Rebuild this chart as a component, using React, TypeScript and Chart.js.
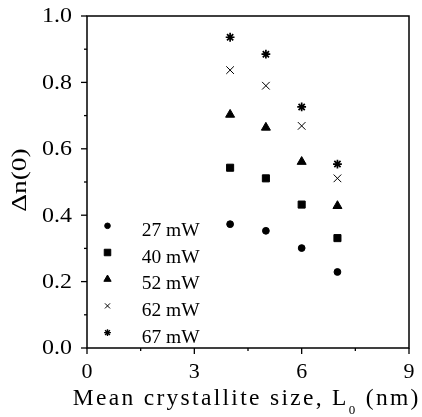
import React, { useEffect, useRef } from "react";
import { Chart, registerables } from "chart.js";
import { drawPoint } from "chart.js/helpers";

Chart.register(...registerables);

const xValues = [4, 5, 6, 7];
const series27 = [0.373, 0.353, 0.301, 0.229];
const series40 = [0.543, 0.511, 0.432, 0.331];
const series52 = [0.703, 0.664, 0.561, 0.428];
const series62 = [0.837, 0.79, 0.669, 0.511];
const series67 = [0.936, 0.885, 0.726, 0.554];
const seriesNames = ["27 mW", "40 mW", "52 mW", "62 mW", "67 mW"];
const pointStyles = ["circle", "rect", "triangle", "crossRot", "star"];
const pointRadii = [3.4, 5, 5.2, 5.4, 4.4];
const pointBorders = [1, 1, 1, 1, 1.7];
const legendRadii = [2.8, 4.6, 4.2, 3.6, 3.4];
const legendBorders = [1, 1, 1, 1, 1.4];
const xTicks = [0, 3, 6, 9];
const yTicks = [0, 0.2, 0.4, 0.6, 0.8, 1.0];
const xTitleMain = "Mean crystallite size, L";
const xTitleSub = "0";
const xTitleTail = " (nm)";
const yTitle = "\u0394n(0)";

const FONT = '"Liberation Serif", "Times New Roman", Times, serif';

function drawStretched(ctx: any, text: string, size: number, x: number, y: number, align: string, sx: number) {
  ctx.save();
  ctx.font = `${size}px ${FONT}`;
  ctx.textBaseline = "alphabetic";
  ctx.textAlign = "left";
  const w = ctx.measureText(text).width * sx;
  let left = x;
  if (align === "right") left = x - w;
  else if (align === "center") left = x - w / 2;
  ctx.translate(left, y);
  ctx.scale(sx, 1);
  ctx.fillText(text, 0, 0);
  ctx.restore();
}

const framePlugin = {
  id: "frame",
  afterDraw(chart: any) {
    const { ctx, chartArea } = chart;
    const { left, right, top, bottom } = chartArea;
    const xs = chart.scales.x;
    const ys = chart.scales.y;
    ctx.save();
    ctx.strokeStyle = "#000";
    ctx.fillStyle = "#000";
    ctx.lineWidth = 1.5;
    ctx.strokeRect(left, top, right - left, bottom - top);
    ctx.lineWidth = 1.3;
    for (let v = 0; v <= 10; v++) {
      const y = ys.getPixelForValue(v / 10);
      const len = v % 2 === 0 ? 6 : 3;
      ctx.beginPath();
      ctx.moveTo(left - len, y);
      ctx.lineTo(left, y);
      ctx.stroke();
    }
    for (let v = 0; v <= 6; v++) {
      const x = xs.getPixelForValue(v * 1.5);
      const len = v % 2 === 0 ? 6 : 3;
      ctx.beginPath();
      ctx.moveTo(x, bottom);
      ctx.lineTo(x, bottom + len);
      ctx.stroke();
    }
    for (const v of yTicks) {
      const y = ys.getPixelForValue(v);
      drawStretched(ctx, v.toFixed(1), 22, 72, y + 6.3, "right", 1.09);
    }
    for (const v of xTicks) {
      const x = xs.getPixelForValue(v);
      drawStretched(ctx, String(v), 22, x, 377.5, "center", 1);
    }
    const base = 405;
    const big = 23.5;
    const small = 13;
    const chars = (xTitleMain + xTitleSub + xTitleTail).length;
    ctx.font = `${big}px ${FONT}`;
    const n1 = ctx.measureText(xTitleMain).width + ctx.measureText(xTitleTail).width;
    ctx.font = `${small}px ${FONT}`;
    const n2 = ctx.measureText(xTitleSub).width;
    const target = 348;
    const ls = (target - n1 - n2) / chars;
    (ctx as any).letterSpacing = `${ls}px`;
    ctx.textAlign = "left";
    ctx.textBaseline = "alphabetic";
    ctx.font = `${big}px ${FONT}`;
    const w1 = ctx.measureText(xTitleMain).width;
    ctx.font = `${small}px ${FONT}`;
    const w2 = ctx.measureText(xTitleSub).width;
    const x0 = 72.7;
    ctx.font = `${big}px ${FONT}`;
    ctx.fillText(xTitleMain, x0, base);
    ctx.font = `${small}px ${FONT}`;
    ctx.fillText(xTitleSub, x0 + w1, base + 9);
    ctx.font = `${big}px ${FONT}`;
    ctx.fillText(xTitleTail, x0 + w1 + w2, base);
    (ctx as any).letterSpacing = "0px";
    ctx.save();
    ctx.translate(25.5, 180);
    ctx.rotate(-Math.PI / 2);
    ctx.font = `20px ${FONT}`;
    const wy = ctx.measureText(yTitle).width;
    const sy = 63.5 / wy;
    ctx.scale(sy, 1);
    ctx.textAlign = "center";
    ctx.textBaseline = "alphabetic";
    ctx.fillText(yTitle, 0, 0);
    ctx.restore();
    const lx = 107.5;
    const tx = 141.7;
    const y0 = 229.3;
    const dy = 26.7;
    for (let i = 0; i < seriesNames.length; i++) {
      const y = y0 + i * dy;
      ctx.fillStyle = "#000";
      ctx.strokeStyle = "#000";
      ctx.lineWidth = legendBorders[i];
      drawPoint(ctx, { pointStyle: pointStyles[i] as any, radius: legendRadii[i], rotation: 0, borderWidth: legendBorders[i] } as any, lx, y - 3.5);
      drawStretched(ctx, seriesNames[i], 19.5, tx, y + 6.6, "left", 1);
    }
    ctx.restore();
  },
};

export default function App() {
  const ref = useRef<HTMLCanvasElement | null>(null);
  useEffect(() => {
    if (!ref.current) return;
    const all = [series27, series40, series52, series62, series67];
    const chart = new Chart(ref.current, {
      type: "scatter",
      data: {
        datasets: all.map((s, i) => ({
          label: seriesNames[i],
          data: xValues.map((x, j) => ({ x, y: s[j] })),
          pointStyle: pointStyles[i] as any,
          pointRadius: pointRadii[i],
          backgroundColor: "#000",
          borderColor: "#000",
          borderWidth: pointBorders[i],
          showLine: false,
        })),
      },
      options: {
        animation: false,
        responsive: false,
        maintainAspectRatio: false,
        layout: { padding: { left: 0, right: 13, top: 16, bottom: 0 } },
        plugins: { legend: { display: false }, tooltip: { enabled: false } },
        scales: {
          x: {
            type: "linear",
            min: 0,
            max: 9,
            afterFit: (s: any) => {
              s.height = 69;
            },
            grid: { display: false, drawTicks: false },
            border: { display: false },
            ticks: { display: false, stepSize: 3 },
          },
          y: {
            type: "linear",
            min: 0,
            max: 1,
            afterFit: (s: any) => {
              s.width = 87;
            },
            grid: { display: false, drawTicks: false },
            border: { display: false },
            ticks: { display: false, stepSize: 0.2 },
          },
        },
      },
      plugins: [framePlugin],
    });
    return () => chart.destroy();
  }, []);
  return (
    <div style={{ position: "fixed", left: 0, top: 0, width: 422, height: 417, background: "#fff" }}>
      <canvas ref={ref} width={422} height={417} style={{ width: 422, height: 417 }} />
    </div>
  );
}
